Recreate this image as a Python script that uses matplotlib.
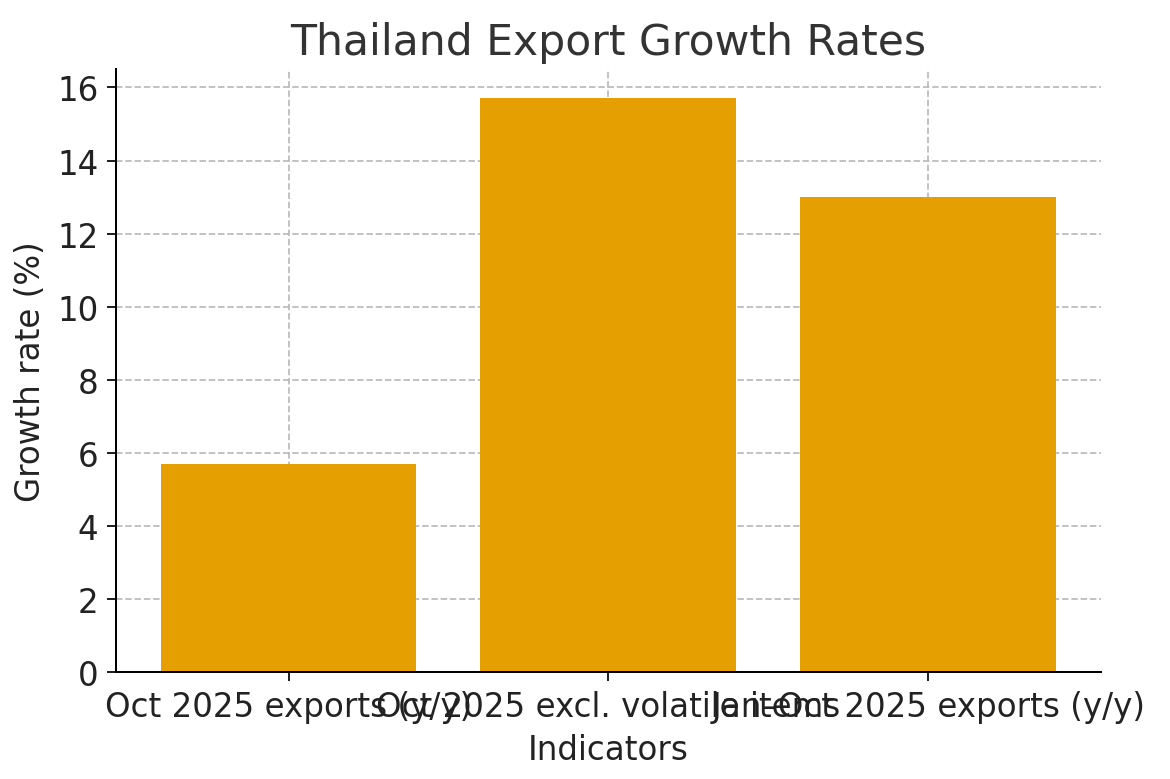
import matplotlib
matplotlib.use("Agg")
import matplotlib.pyplot as plt

categories = ["Oct 2025 exports (y/y)", "Oct 2025 excl. volatile items", "Jan–Oct 2025 exports (y/y)"]
values = [5.7, 15.7, 13.0]

fig = plt.figure(figsize=(6.5, 4.3333), dpi=180)
ax = fig.add_axes([0.099, 0.137, 0.842, 0.773])
ax.bar(categories, values, color="#E69F00", width=0.8, zorder=2)
ax.set_ylim(0, 16.5)
ax.set_title("Thailand Export Growth Rates", fontsize=17, color="#333333")
ax.set_xlabel("Indicators", fontsize=13, color="#222222")
ax.set_ylabel("Growth rate (%)", fontsize=13, color="#222222")
ax.tick_params(labelsize=13, colors="#222222")
ax.grid(True, linestyle="--", color="#bbbbbb", linewidth=0.7, zorder=0)
ax.set_axisbelow(True)
for s in ["top", "right"]:
    ax.spines[s].set_visible(False)
fig.savefig("out.png", dpi=180)
